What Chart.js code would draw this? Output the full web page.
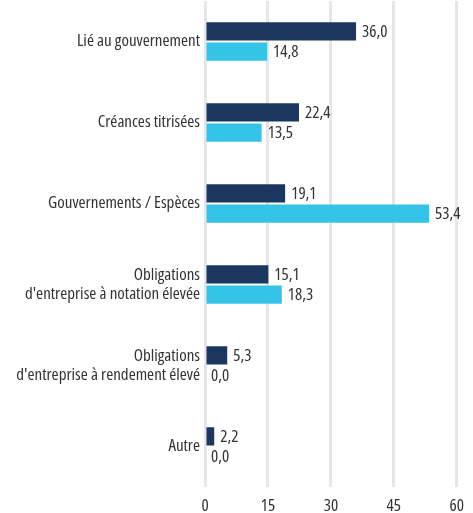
<!DOCTYPE html>
<html>
<head>
<meta charset="utf-8">
<script src="https://cdn.jsdelivr.net/npm/chart.js@4/dist/chart.umd.min.js"></script>
<style>
  html, body { margin: 0; padding: 0; background: #fff; }
  #wrap { width: 473px; height: 513px; }
</style>
</head>
<body>
<div id="wrap"><canvas id="repartition" width="473" height="513"></canvas></div>
<script>
const categories = [
  'Lié au gouvernement',
  'Créances titrisées',
  'Gouvernements / Espèces',
  ['Obligations', "d'entreprise à notation élevée"],
  ['Obligations', "d'entreprise à rendement élevé"],
  'Autre'
];
const serieFonce = [36.0, 22.4, 19.1, 15.1, 5.3, 2.2];
const serieClair = [14.8, 13.5, 53.4, 18.3, 0.0, 0.0];
const xTicks = [0, 15, 30, 45, 60];

const police = '"Open Sans", "Roboto Condensed", sans-serif';
const etroit = 'condensed'; // passe par le champ weight -> "condensed 17px Open Sans"
const texte = '#333333';

// étiquettes de valeur au bout des barres
const valeurs = {
  id: 'valeurs',
  afterDatasetsDraw(chart) {
    const ctx = chart.ctx;
    ctx.save();
    ctx.font = etroit + ' 17px ' + police;
    ctx.fillStyle = texte;
    ctx.textBaseline = 'middle';
    ctx.textAlign = 'left';
    chart.data.datasets.forEach((ds, i) => {
      chart.getDatasetMeta(i).data.forEach((bar, j) => {
        const v = ds.data[j].toFixed(1).replace('.', ',');
        ctx.fillText(v, bar.x + 6, bar.y + 1);
      });
    });
    ctx.restore();
  }
};

new Chart(document.getElementById('repartition').getContext('2d'), {
  type: 'bar',
  data: {
    labels: categories,
    datasets: [
      {
        data: serieFonce,
        backgroundColor: '#1b365f',
        barPercentage: 0.9,
        categoryPercentage: 0.5
      },
      {
        data: serieClair,
        backgroundColor: '#35c3e8',
        barPercentage: 0.9,
        categoryPercentage: 0.5
      }
    ]
  },
  options: {
    indexAxis: 'y',
    responsive: false,
    animation: false,
    layout: { padding: { top: 1, left: 0, right: 0, bottom: 0 } },
    plugins: {
      legend: { display: false },
      tooltip: { enabled: false }
    },
    scales: {
      x: {
        min: 0,
        max: 60,
        afterBuildTicks(scale) {
          scale.ticks = xTicks.map(v => ({ value: v }));
        },
        afterFit(scale) { scale.height = 26; },
        grid: { color: '#e6e6e6', lineWidth: 3, drawTicks: false, tickLength: 0 },
        border: { display: false },
        ticks: {
          padding: 9,
          color: texte,
          font: { family: police, size: 17, weight: etroit }
        }
      },
      y: {
        grid: { display: false, drawTicks: false },
        border: { display: false },
        afterFit(scale) {
          scale.width = 205;
          scale.paddingTop = 0;
          scale.paddingBottom = 0;
        },
        ticks: {
          padding: 5,
          color: texte,
          font: { family: police, size: 17, weight: etroit, lineHeight: 1.1 }
        }
      }
    }
  },
  plugins: [valeurs]
});
</script>
</body>
</html>
